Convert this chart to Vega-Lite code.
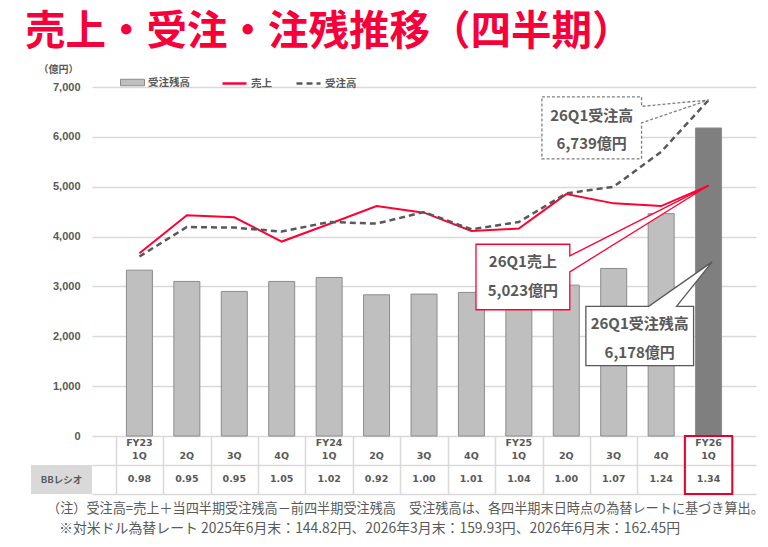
{
  "$schema": "https://vega.github.io/schema/vega-lite/v6.json",
  "padding": {"left": 25, "top": 12, "right": 0, "bottom": 0},
  "title": {
    "text": "売上・受注・注残推移（四半期）",
    "fontSize": 40.5,
    "fontWeight": "bold",
    "color": "#F7003A",
    "anchor": "start",
    "frame": "group",
    "dx": -6,
    "offset": 11
  },
  "datasets": {
    "q": [
      {"i": 0, "fy": "FY23", "q": "1Q", "bb": 0.98, "backlog": 3326, "sales": 3666, "orders": 3600},
      {"i": 1, "fy": "", "q": "2Q", "bb": 0.95, "backlog": 3100, "sales": 4426, "orders": 4192},
      {"i": 2, "fy": "", "q": "3Q", "bb": 0.95, "backlog": 2900, "sales": 4386, "orders": 4180},
      {"i": 3, "fy": "", "q": "4Q", "bb": 1.05, "backlog": 3100, "sales": 3900, "orders": 4100},
      {"i": 4, "fy": "FY24", "q": "1Q", "bb": 1.02, "backlog": 3180, "sales": 4252, "orders": 4292},
      {"i": 5, "fy": "", "q": "2Q", "bb": 0.92, "backlog": 2832, "sales": 4612, "orders": 4260},
      {"i": 6, "fy": "", "q": "3Q", "bb": 1.0, "backlog": 2846, "sales": 4480, "orders": 4492},
      {"i": 7, "fy": "", "q": "4Q", "bb": 1.01, "backlog": 2880, "sales": 4112, "orders": 4146},
      {"i": 8, "fy": "FY25", "q": "1Q", "bb": 1.04, "backlog": 3010, "sales": 4160, "orders": 4292},
      {"i": 9, "fy": "", "q": "2Q", "bb": 1.0, "backlog": 3026, "sales": 4852, "orders": 4866},
      {"i": 10, "fy": "", "q": "3Q", "bb": 1.07, "backlog": 3360, "sales": 4666, "orders": 5000},
      {"i": 11, "fy": "", "q": "4Q", "bb": 1.24, "backlog": 4460, "sales": 4612, "orders": 5700},
      {"i": 12, "fy": "FY26", "q": "1Q", "bb": 1.34, "backlog": 6178, "sales": 5023, "orders": 6739}
    ],
    "callout": [
      {"c": "A", "o": 0, "x": 8.486, "y": 6800},
      {"c": "A", "o": 1, "x": 10.587, "y": 6800},
      {"c": "A", "o": 2, "x": 10.587, "y": 6612},
      {"c": "A", "o": 3, "x": 12, "y": 6739},
      {"c": "A", "o": 4, "x": 10.587, "y": 6280},
      {"c": "A", "o": 5, "x": 10.587, "y": 5560},
      {"c": "A", "o": 6, "x": 8.486, "y": 5560},
      {"c": "B", "o": 0, "x": 7.096, "y": 3846},
      {"c": "B", "o": 1, "x": 9.074, "y": 3846},
      {"c": "B", "o": 2, "x": 9.074, "y": 3612},
      {"c": "B", "o": 3, "x": 12, "y": 5023},
      {"c": "B", "o": 4, "x": 9.074, "y": 3292},
      {"c": "B", "o": 5, "x": 9.074, "y": 2532},
      {"c": "B", "o": 6, "x": 7.096, "y": 2532},
      {"c": "C", "o": 0, "x": 9.413, "y": 2600},
      {"c": "C", "o": 1, "x": 10.738, "y": 2600},
      {"c": "C", "o": 2, "x": 12.075, "y": 3492},
      {"c": "C", "o": 3, "x": 11.325, "y": 2600},
      {"c": "C", "o": 4, "x": 11.684, "y": 2600},
      {"c": "C", "o": 5, "x": 11.684, "y": 1412},
      {"c": "C", "o": 6, "x": 9.413, "y": 1412}
    ],
    "ctext": [
      {"t": "26Q1受注高", "x": 9.536, "y": 6426},
      {"t": "6,739億円", "x": 9.536, "y": 5860},
      {"t": "26Q1売上", "x": 8.085, "y": 3500},
      {"t": "5,023億円", "x": 8.085, "y": 2900},
      {"t": "26Q1受注残高", "x": 10.548, "y": 2246},
      {"t": "6,178億円", "x": 10.548, "y": 1666}
    ]
  },
  "columns": 2,
  "bounds": "flush",
  "spacing": {"row": 0, "column": 0},
  "concat": [
    {
      "width": 61,
      "height": 349,
      "data": {"values": [{}]},
      "mark": {"type": "text"},
      "encoding": {"text": {"value": ""}}
    },
    {
      "width": 664,
      "height": 349,
      "data": {"name": "q"},
      "layer": [
        {
          "mark": {"type": "bar", "width": 26, "stroke": "#8C8C8C", "strokeWidth": 1},
          "encoding": {
            "x": {"field": "i", "type": "quantitative", "scale": {"domain": [-0.5, 12.5]}, "axis": null},
            "y": {
              "field": "backlog",
              "type": "quantitative",
              "scale": {"domain": [0, 7000], "nice": false},
              "axis": {
                "values": [0, 1000, 2000, 3000, 4000, 5000, 6000, 7000],
                "format": ",.0f",
                "title": "（億円）",
                "titleAngle": 0,
                "titleAlign": "left",
                "titleBaseline": "middle",
                "titleX": -54,
                "titleY": -18,
                "titleFontSize": 10,
                "titleFontWeight": "bold",
                "titleColor": "#595959",
                "labelFont": "Liberation Sans",
                "labelFontSize": 11,
                "labelFontWeight": "bold",
                "labelColor": "#595959",
                "labelPadding": 12,
                "ticks": false,
                "tickSize": 0,
                "domain": false,
                "gridColor": "#D9D9D9",
                "gridWidth": 1.3
              }
            },
            "fill": {
              "condition": {"test": "datum.i === 12", "value": "#7F7F7F"},
              "datum": "受注残高",
              "type": "nominal",
              "scale": {"domain": ["受注残高"], "range": ["#BFBFBF"]},
              "legend": {
                "orient": "none",
                "legendX": 89,
                "legendY": -17,
                "title": null,
                "labelFontSize": 10.5,
                "labelFontWeight": "bold",
                "labelColor": "#595959",
                "labelOffset": 3,
                "symbolSize": 576,
                "symbolType": "M-1,-0.27H1V0.27H-1Z",
                "symbolStrokeColor": "#8C8C8C",
                "symbolStrokeWidth": 1
              }
            }
          }
        },
        {
          "mark": {"type": "line", "strokeWidth": 2},
          "encoding": {
            "x": {"field": "i", "type": "quantitative"},
            "y": {"field": "sales", "type": "quantitative"},
            "stroke": {
              "datum": "売上",
              "type": "nominal",
              "scale": {"domain": ["売上"], "range": ["#FF0033"]},
              "legend": {
                "orient": "none",
                "legendX": 190,
                "legendY": -17,
                "title": null,
                "labelFontSize": 10.5,
                "labelFontWeight": "bold",
                "labelColor": "#595959",
                "labelOffset": 3,
                "symbolSize": 576,
                "symbolType": "stroke",
                "symbolStrokeWidth": 2.5
              }
            }
          }
        },
        {
          "mark": {"type": "line", "strokeWidth": 2.5, "color": "#595959"},
          "encoding": {
            "x": {"field": "i", "type": "quantitative"},
            "y": {"field": "orders", "type": "quantitative"},
            "strokeDash": {
              "datum": "受注高",
              "type": "nominal",
              "scale": {"domain": ["受注高"], "range": [[6, 4]]},
              "legend": {
                "orient": "none",
                "legendX": 264,
                "legendY": -17,
                "title": null,
                "labelFontSize": 10.5,
                "labelFontWeight": "bold",
                "labelColor": "#595959",
                "labelOffset": 3,
                "symbolSize": 576,
                "symbolType": "stroke",
                "symbolStrokeColor": "#595959",
                "symbolStrokeWidth": 2.5
              }
            }
          }
        },
        {
          "data": {"name": "callout"},
          "transform": [{"filter": "datum.c === 'A'"}],
          "mark": {"type": "line", "interpolate": "linear-closed", "fill": "white", "stroke": "#7F7F7F", "strokeWidth": 1.3, "strokeDash": [3, 2]},
          "encoding": {
            "x": {"field": "x", "type": "quantitative"},
            "y": {"field": "y", "type": "quantitative"},
            "order": {"field": "o"}
          }
        },
        {
          "data": {"name": "callout"},
          "transform": [{"filter": "datum.c === 'B'"}],
          "mark": {"type": "line", "interpolate": "linear-closed", "fill": "white", "stroke": "#FF0033", "strokeWidth": 1.3},
          "encoding": {
            "x": {"field": "x", "type": "quantitative"},
            "y": {"field": "y", "type": "quantitative"},
            "order": {"field": "o"}
          }
        },
        {
          "data": {"name": "callout"},
          "transform": [{"filter": "datum.c === 'C'"}],
          "mark": {"type": "line", "interpolate": "linear-closed", "fill": "white", "stroke": "#595959", "strokeWidth": 1.3},
          "encoding": {
            "x": {"field": "x", "type": "quantitative"},
            "y": {"field": "y", "type": "quantitative"},
            "order": {"field": "o"}
          }
        },
        {
          "data": {"name": "ctext"},
          "mark": {"type": "text", "fontSize": 15, "fontWeight": "bold", "color": "#595959"},
          "encoding": {
            "x": {"field": "x", "type": "quantitative"},
            "y": {"field": "y", "type": "quantitative"},
            "text": {"field": "t"}
          }
        }
      ]
    },
    {
      "width": 61,
      "height": 58,
      "data": {"values": [{"lab": "BBレシオ"}]},
      "title": {
        "text": "（注）受注高=売上＋当四半期受注残高－前四半期受注残高　受注残高は、各四半期末日時点の為替レートに基づき算出。",
        "orient": "bottom",
        "anchor": "start",
        "frame": "group",
        "dx": 16,
        "offset": 9,
        "fontSize": 13.15,
        "fontWeight": "normal",
        "color": "#595959"
      },
      "layer": [
        {
          "mark": {"type": "rect", "color": "#D9D9D9"},
          "encoding": {
            "x": {"datum": 0, "type": "quantitative", "scale": {"domain": [0, 1]}, "axis": null},
            "x2": {"datum": 1},
            "y": {"datum": 0, "type": "quantitative", "scale": {"domain": [0, 2]}, "axis": null},
            "y2": {"datum": 1}
          }
        },
        {
          "mark": {"type": "text", "fontSize": 9.5, "fontWeight": "bold", "color": "#595959"},
          "encoding": {
            "x": {"datum": 0.5, "type": "quantitative"},
            "y": {"datum": 0.5, "type": "quantitative"},
            "text": {"field": "lab"}
          }
        }
      ]
    },
    {
      "width": 664,
      "height": 58,
      "data": {"name": "q"},
      "title": {
        "text": "※対米ドル為替レート 2025年6月末：144.82円、2026年3月末：159.93円、2026年6月末：162.45円",
        "orient": "bottom",
        "anchor": "start",
        "frame": "group",
        "dx": -33,
        "offset": 27,
        "fontSize": 13.9,
        "fontWeight": "normal",
        "color": "#595959"
      },
      "layer": [
        {
          "mark": {"type": "text", "font": "DejaVu Sans", "fontSize": 9.5, "fontWeight": "bold", "color": "#595959"},
          "encoding": {
            "x": {
              "field": "i",
              "type": "quantitative",
              "scale": {"domain": [-0.5, 12.5]},
              "axis": {
                "values": [-0.5, 0.5, 1.5, 2.5, 3.5, 4.5, 5.5, 6.5, 7.5, 8.5, 9.5, 10.5, 11.5, 12.5],
                "grid": true,
                "gridColor": "#D9D9D9",
                "gridWidth": 1.5,
                "labels": false,
                "ticks": false,
                "domain": false,
                "title": null
              }
            },
            "y": {
              "datum": 1.76,
              "type": "quantitative",
              "scale": {"domain": [0, 2]},
              "axis": {
                "values": [0, 1],
                "grid": true,
                "gridColor": "#D9D9D9",
                "gridWidth": 1.5,
                "labels": false,
                "ticks": false,
                "domain": false,
                "title": null
              }
            },
            "text": {"field": "fy"}
          }
        },
        {
          "mark": {"type": "text", "font": "DejaVu Sans", "fontSize": 9.5, "fontWeight": "bold", "color": "#595959"},
          "encoding": {
            "x": {"field": "i", "type": "quantitative"},
            "y": {"datum": 1.31, "type": "quantitative"},
            "text": {"field": "q"}
          }
        },
        {
          "mark": {"type": "text", "font": "DejaVu Sans", "fontSize": 9.5, "fontWeight": "bold", "color": "#595959"},
          "encoding": {
            "x": {"field": "i", "type": "quantitative"},
            "y": {"datum": 0.52, "type": "quantitative"},
            "text": {"field": "bb", "format": ".2f"}
          }
        },
        {
          "data": {"values": [{}]},
          "mark": {"type": "rect", "filled": false, "stroke": "#E8002D", "strokeWidth": 2},
          "encoding": {
            "x": {"datum": 11.5, "type": "quantitative"},
            "x2": {"datum": 12.5},
            "y": {"datum": 0, "type": "quantitative"},
            "y2": {"datum": 2}
          }
        }
      ]
    }
  ],
  "config": {
    "view": {"stroke": null},
    "font": "Noto Sans CJK JP",
    "text": {"font": "Noto Sans CJK JP"},
    "title": {"font": "Noto Sans CJK JP"},
    "axis": {"labelFont": "Noto Sans CJK JP", "titleFont": "Noto Sans CJK JP"},
    "legend": {"labelFont": "Noto Sans CJK JP"}
  }
}
